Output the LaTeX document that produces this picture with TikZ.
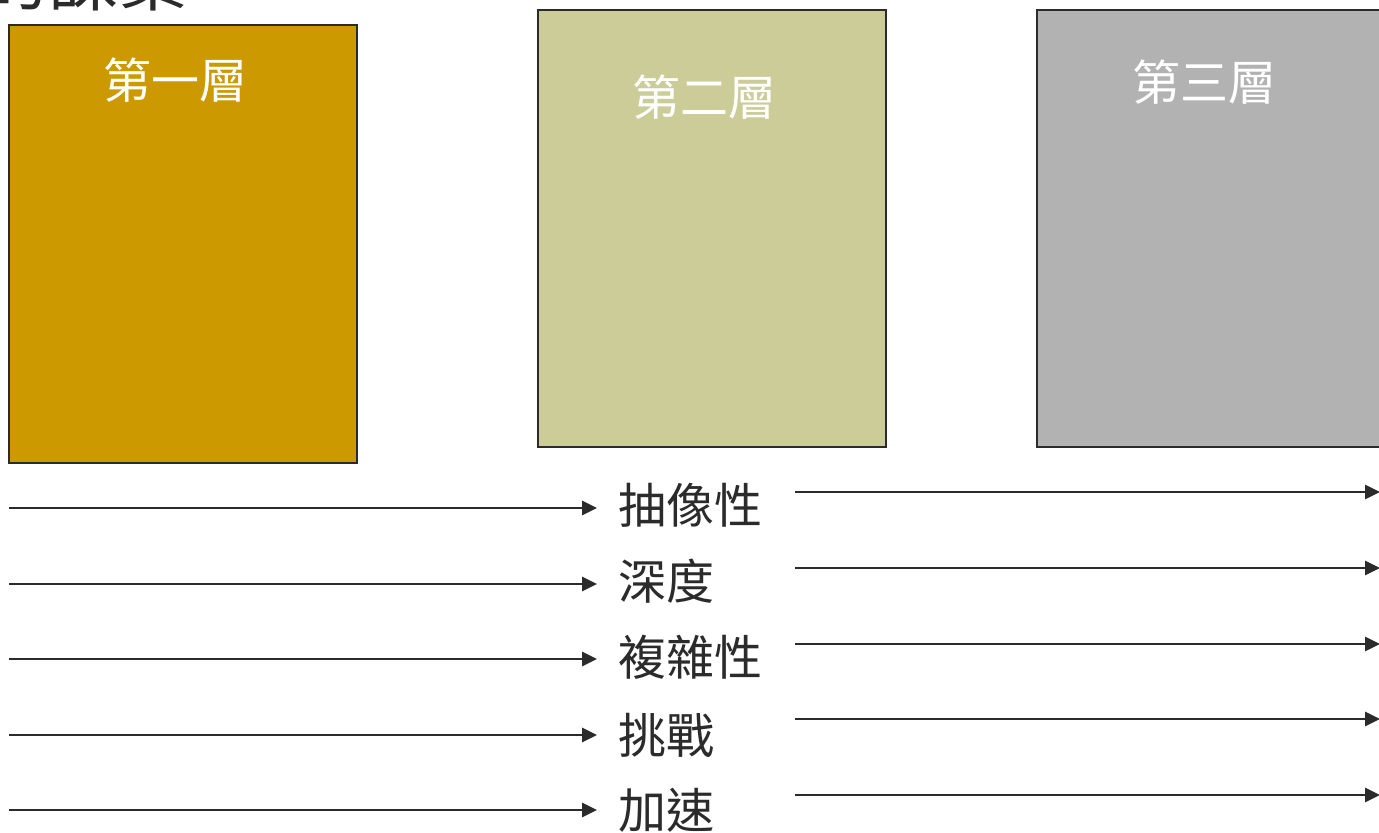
\documentclass[tikz,border=0pt]{standalone}
\usepackage{fontspec}
\newfontfamily\cjk{Noto Sans CJK TC}
\usetikzlibrary{arrows.meta}
\definecolor{gold}{HTML}{CC9900}
\definecolor{olive}{HTML}{CCCC99}
\definecolor{greybox}{HTML}{B2B2B2}
\definecolor{ink}{HTML}{2B2B2B}
\tikzset{
  layerbox/.style={draw=ink, line width=1pt},
  layertext/.style={text=white, font=\cjk\fontsize{24}{28}\selectfont, inner sep=0pt},
  label/.style={text=ink, font=\cjk\fontsize{24}{28}\selectfont, anchor=west, inner xsep=10.5pt, inner ysep=0pt},
  flow/.style={draw=ink, line width=1.4pt, -{Triangle[length=7.5pt,width=7pt]}},
}
\begin{document}
\begin{tikzpicture}[x=0.5pt,y=-0.5pt]
\useasboundingbox (0,0) rectangle (1379,833);
\clip (0,0) rectangle (1379,833);
\fill[white] (0,0) rectangle (1379,833);
% title (cut off at top)
\node[anchor=base west, inner sep=0pt, text=ink, font=\cjk\fontsize{35}{40}\selectfont] (title) at (-22,6) {的課業};
% boxes
\draw[layerbox, fill=gold] (9,25) rectangle (357,463);
\draw[layerbox, fill=olive] (538,10) rectangle (886,447);
\draw[layerbox, fill=greybox] (1037,10) rectangle (1385,447);
\node[layertext] (b1) at (175,80) {第一層};
\node[layertext] (b2) at (704,97) {第二層};
\node[layertext] (b3) at (1204,82) {第三層};
% labels
\node[label] (t1) at (597,505) {抽像性};
\node[label] (t2) at (597,581) {深度};
\node[label] (t3) at (597,657) {複雜性};
\node[label] (t4) at (597,735) {挑戰};
\node[label] (t5) at (597,810) {加速};
% left arrows
\coordinate (l1) at (9,508);
\coordinate (l2) at (9,584);
\coordinate (l3) at (9,659);
\coordinate (l4) at (9,735);
\coordinate (l5) at (9,810);
\foreach \i in {1,...,5} {\draw[flow] (l\i) -- (l\i -| t\i.west);}
% right arrows
\coordinate (r1s) at (795,492); \coordinate (r1e) at (1380,492);
\coordinate (r2s) at (795,568); \coordinate (r2e) at (1380,568);
\coordinate (r3s) at (795,644); \coordinate (r3e) at (1380,644);
\coordinate (r4s) at (795,719); \coordinate (r4e) at (1380,719);
\coordinate (r5s) at (795,795); \coordinate (r5e) at (1380,795);
\foreach \i in {1,...,5} {\draw[flow] (r\i s) -- (r\i e);}
\end{tikzpicture}
\end{document}
